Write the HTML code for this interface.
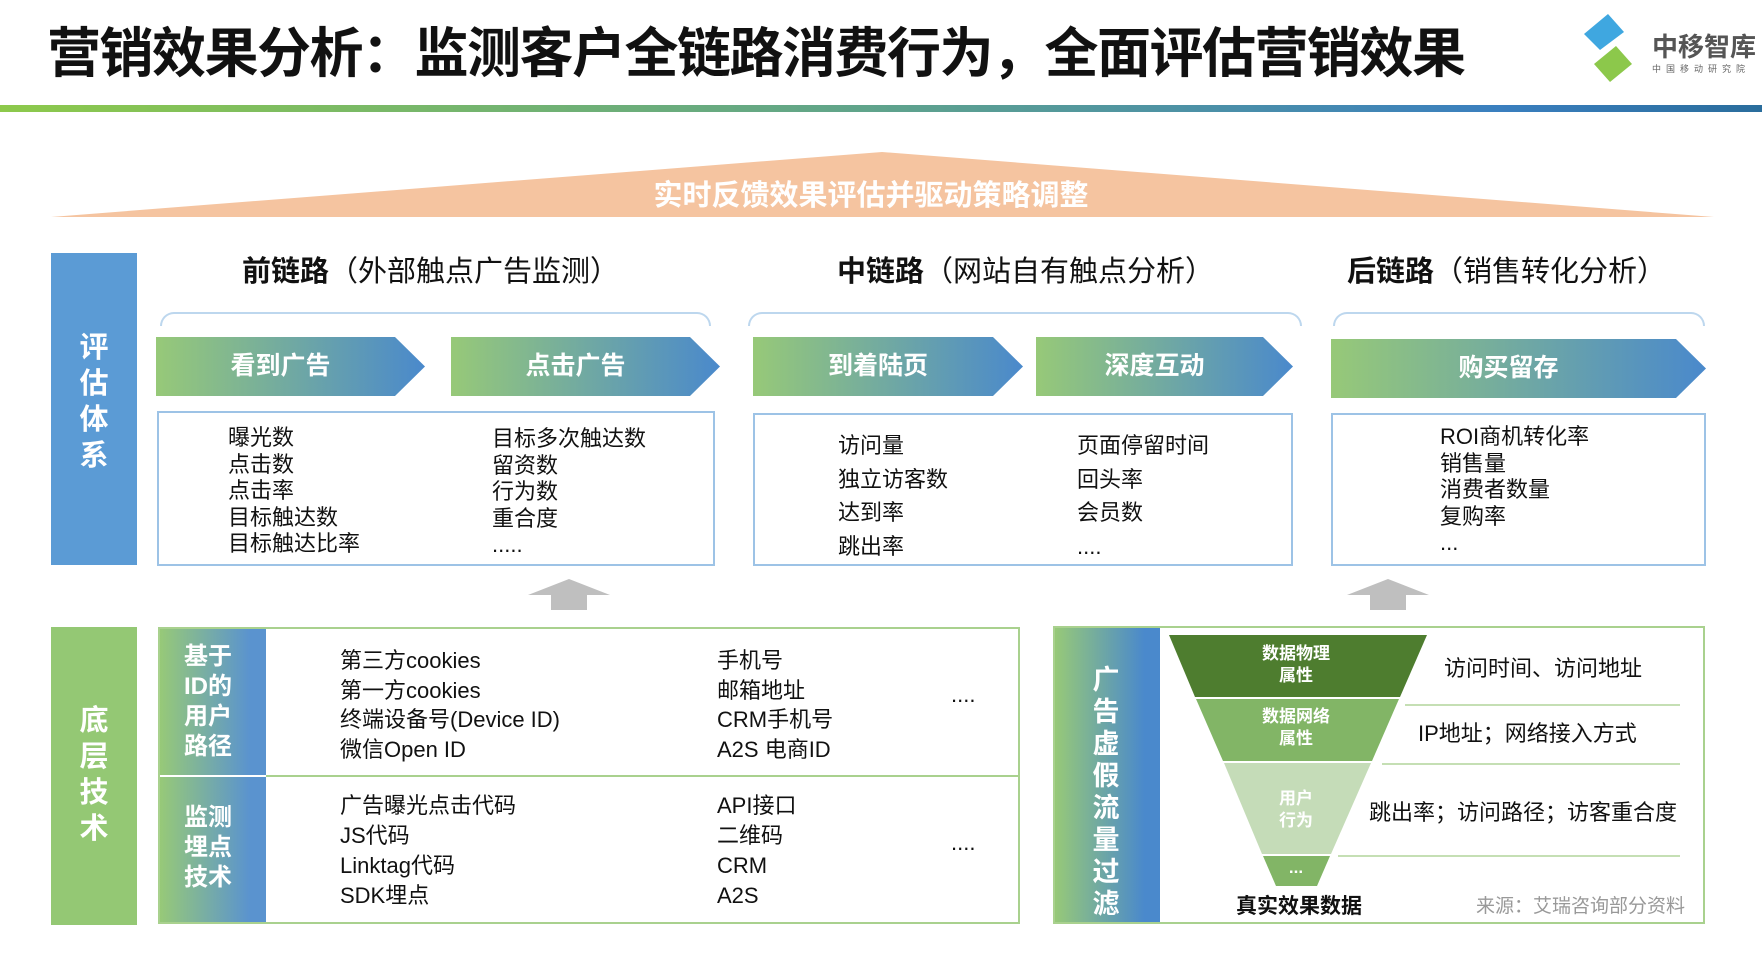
<!DOCTYPE html>
<html><head><meta charset="utf-8"><style>
*{margin:0;padding:0;box-sizing:border-box}
body{width:1762px;height:962px;background:#fff;position:relative;overflow:hidden;font-family:"Liberation Sans","Noto Sans CJK SC",sans-serif;color:#111}
.a{position:absolute;white-space:nowrap}
.chev{position:absolute;height:59px;background:linear-gradient(90deg,#97c978,#4a89cc);clip-path:polygon(0 0,calc(100% - 30px) 0,100% 50%,calc(100% - 30px) 100%,0 100%);color:#fff;font-weight:bold;font-size:25px;line-height:59px;text-align:center;padding-right:20px}
.box{position:absolute;border:2px solid #9dc3e6}
.lst{position:absolute;font-size:22px;line-height:26.5px;white-space:nowrap}
.vt{position:absolute;color:#fff;font-weight:bold;font-size:29px;line-height:36px;text-align:center}
.hd{position:absolute;font-size:29px;white-space:nowrap}
.hd b{font-weight:bold}
.brace{position:absolute;height:14px;border:2px solid #bdd7ee;border-bottom:none;border-radius:14px 14px 0 0}
.lab{position:absolute;color:#fff;font-weight:bold;font-size:24px;line-height:30px}
</style></head><body>
<div class="a" style="left:47px;top:9px;font-size:54px;font-weight:bold;letter-spacing:-1.5px">营销效果分析：监测客户全链路消费行为，全面评估营销效果</div>
<svg class="a" style="left:1570px;top:12px" width="190" height="72">
<polygon points="38,2 54,20 30,38 14,22" fill="#3fa7e0"/>
<polygon points="46,34 62,52 40,70 24,52" fill="#8cc84b"/>
<text x="82" y="44" font-size="26" font-weight="bold" fill="#555" font-family="Liberation Sans,Noto Sans CJK SC,sans-serif">中移智库</text>
<text x="82" y="60" font-size="9" fill="#666" font-family="Noto Sans CJK SC,sans-serif" letter-spacing="5">中国移动研究院</text>
</svg>
<div class="a" style="left:0;top:105px;width:1762px;height:7px;background:linear-gradient(90deg,#8dc94b,#5fa38c 50%,#3a7fbf 85%,#2a6d9c)"></div>
<svg class="a" style="left:0;top:0" width="1762" height="962">
<polygon points="882,152 1714,217 51,217" fill="#f5c4a0"/>
<polygon points="528,595 569,579 610,595 587,595 587,610 551,610 551,595" fill="#bfbfbf"/>
<polygon points="1347,595 1388,579 1429,595 1406,595 1406,610 1370,610 1370,595" fill="#bfbfbf"/>
<polygon points="1169,635 1427,635 1400,697 1195,697" fill="#4e7d2f"/>
<polygon points="1196,699 1399,699 1372,761 1223,761" fill="#82b566"/>
<polygon points="1224,763 1371,763 1331,854 1262,854" fill="#c5dcb8"/>
<polygon points="1263,856 1330,856 1317,886 1276,886" fill="#82b566"/>
<line x1="1405" y1="705" x2="1680" y2="705" stroke="#c5dfb4" stroke-width="2"/>
<line x1="1382" y1="764" x2="1680" y2="764" stroke="#c5dfb4" stroke-width="2"/>
<line x1="1338" y1="856" x2="1680" y2="856" stroke="#c5dfb4" stroke-width="2"/>
</svg>
<div class="a" style="left:0;width:1762px;top:172px;text-align:center;color:#fff;font-weight:bold;font-size:29px;padding-right:20px">实时反馈效果评估并驱动策略调整</div>
<div class="a" style="left:51px;top:253px;width:86px;height:312px;background:#5b9bd5"></div>
<div class="vt" style="left:51px;top:330px;width:86px">评<br>估<br>体<br>系</div>
<div class="hd" style="left:242px;top:248px"><b>前链路</b>（外部触点广告监测）</div>
<div class="hd" style="left:837px;top:248px"><b>中链路</b>（网站自有触点分析）</div>
<div class="hd" style="left:1347px;top:248px"><b>后链路</b>（销售转化分析）</div>
<div class="brace" style="left:160px;top:312px;width:551px"></div>
<div class="brace" style="left:748px;top:312px;width:554px"></div>
<div class="brace" style="left:1333px;top:312px;width:372px"></div>
<div class="chev" style="left:156px;top:337px;width:269px">看到广告</div>
<div class="chev" style="left:451px;top:337px;width:269px">点击广告</div>
<div class="chev" style="left:753px;top:337px;width:270px">到着陆页</div>
<div class="chev" style="left:1036px;top:337px;width:257px">深度互动</div>
<div class="chev" style="left:1331px;top:339px;width:375px">购买留存</div>
<div class="box" style="left:157px;top:411px;width:558px;height:155px"></div>
<div class="box" style="left:753px;top:413px;width:540px;height:153px"></div>
<div class="box" style="left:1331px;top:413px;width:375px;height:153px"></div>
<div class="lst" style="left:228px;top:425px">曝光数<br>点击数<br>点击率<br>目标触达数<br>目标触达比率</div>
<div class="lst" style="left:492px;top:426px">目标多次触达数<br>留资数<br>行为数<br>重合度<br>.....</div>
<div class="lst" style="left:838px;top:429px;line-height:33.5px">访问量<br>独立访客数<br>达到率<br>跳出率</div>
<div class="lst" style="left:1077px;top:429px;line-height:33.5px">页面停留时间<br>回头率<br>会员数<br>....</div>
<div class="lst" style="left:1440px;top:424px">ROI商机转化率<br>销售量<br>消费者数量<br>复购率<br>...</div>
<div class="a" style="left:51px;top:627px;width:86px;height:298px;background:#94c874"></div>
<div class="vt" style="left:51px;top:703px;width:86px">底<br>层<br>技<br>术</div>
<div class="a" style="left:158px;top:627px;width:862px;height:297px;border:2px solid #a9d18e"></div>
<div class="a" style="left:160px;top:629px;width:106px;height:293px;background:linear-gradient(90deg,#97c978,#5a93cf 85%)"></div>
<div class="a" style="left:266px;top:775px;width:754px;height:2px;background:#a9d18e"></div>
<div class="a" style="left:160px;top:775px;width:106px;height:2px;background:#fff"></div>
<div class="lab" style="left:184px;top:642px">基于<br>ID的<br>用户<br>路径</div>
<div class="lab" style="left:184px;top:803px">监测<br>埋点<br>技术</div>
<div class="lst" style="left:340px;top:646px;line-height:29.7px">第三方cookies<br>第一方cookies<br>终端设备号(Device ID)<br>微信Open ID</div>
<div class="lst" style="left:717px;top:646px;line-height:29.7px">手机号<br>邮箱地址<br>CRM手机号<br>A2S 电商ID</div>
<div class="lst" style="left:951px;top:682px">....</div>
<div class="lst" style="left:340px;top:791px;line-height:30px">广告曝光点击代码<br>JS代码<br>Linktag代码<br>SDK埋点</div>
<div class="lst" style="left:717px;top:791px;line-height:30px">API接口<br>二维码<br>CRM<br>A2S</div>
<div class="lst" style="left:951px;top:830px">....</div>
<div class="a" style="left:1053px;top:626px;width:652px;height:298px;border:2px solid #a9d18e"></div>
<div class="a" style="left:1055px;top:628px;width:105px;height:294px;background:linear-gradient(90deg,#97c978,#4a89cc 85%)"></div>
<div class="vt" style="left:1088px;top:664px;width:36px;font-size:27px;line-height:32px">广<br>告<br>虚<br>假<br>流<br>量<br>过<br>滤</div>
<div class="a" style="left:1226px;top:643px;width:140px;text-align:center;color:#fff;font-weight:bold;font-size:17px;line-height:22px">数据物理<br>属性</div>
<div class="a" style="left:1226px;top:706px;width:140px;text-align:center;color:#fff;font-weight:bold;font-size:17px;line-height:22px">数据网络<br>属性</div>
<div class="a" style="left:1226px;top:788px;width:140px;text-align:center;color:#fff;font-weight:bold;font-size:17px;line-height:22px">用户<br>行为</div>
<div class="a" style="left:1226px;top:858px;width:140px;text-align:center;color:#fff;font-weight:bold;font-size:17px">...</div>
<div class="lst" style="left:1444px;top:656px">访问时间、访问地址</div>
<div class="lst" style="left:1418px;top:721px">IP地址；网络接入方式</div>
<div class="lst" style="left:1369px;top:800px">跳出率；访问路径；访客重合度</div>
<div class="a" style="left:1236px;top:890px;font-size:21px;font-weight:bold">真实效果数据</div>
<div class="a" style="left:1476px;top:891px;font-size:19px;color:#999">来源：艾瑞咨询部分资料</div>
</body></html>
